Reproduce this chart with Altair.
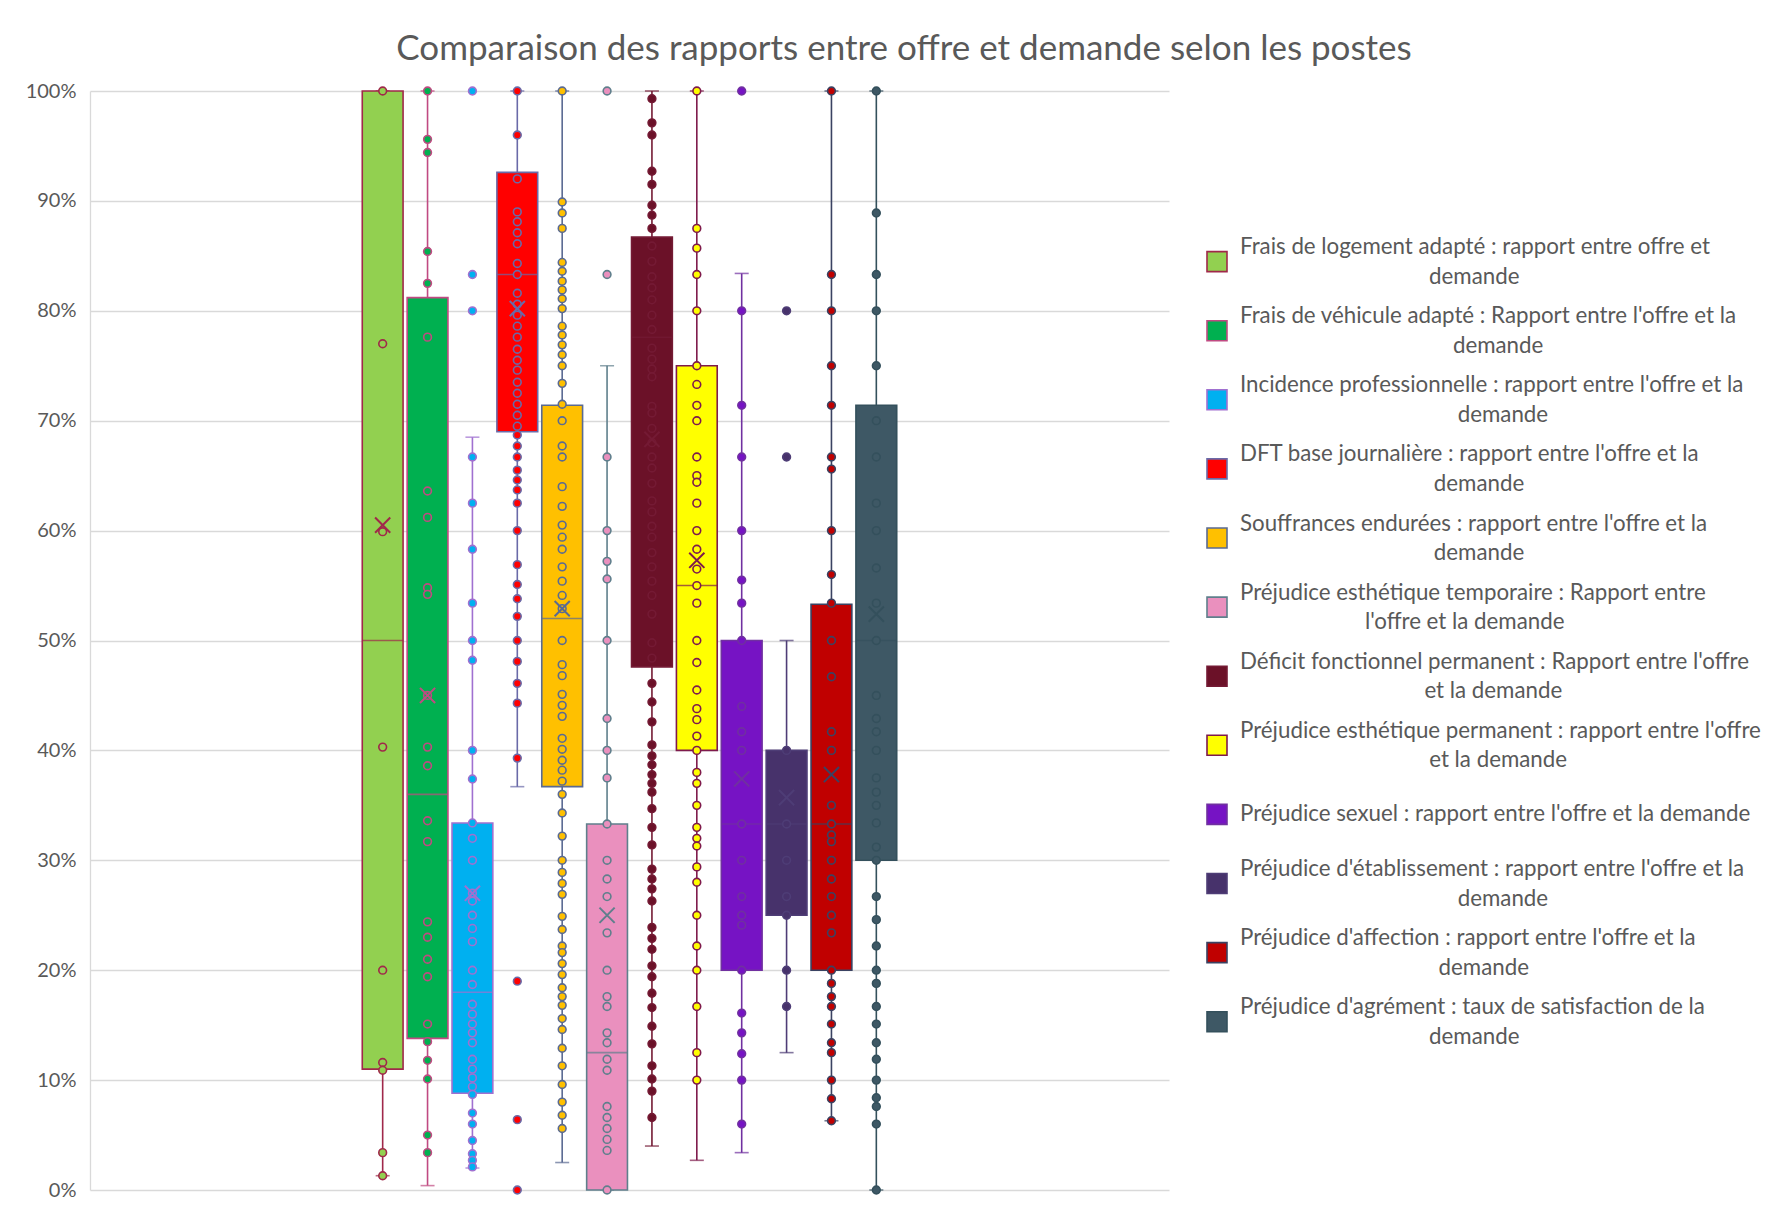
import altair as alt
import pandas as pd

TITLE = "Comparaison des rapports entre offre et demande selon les postes"

LINE1 = [
    "Frais de logement adapté : rapport entre offre et",
    "Frais de véhicule adapté : Rapport entre l'offre et la",
    "Incidence professionnelle : rapport entre l'offre et la",
    "DFT base journalière : rapport entre l'offre et la",
    "Souffrances endurées : rapport entre l'offre et la",
    "Préjudice esthétique temporaire : Rapport entre",
    "Déficit fonctionnel permanent : Rapport entre l'offre",
    "Préjudice esthétique permanent : rapport entre l'offre",
    "Préjudice sexuel : rapport entre l'offre et la demande",
    "Préjudice d'établissement : rapport entre l'offre et la",
    "Préjudice d'affection : rapport entre l'offre et la",
    "Préjudice d'agrément : taux de satisfaction de la",
]
LINE2 = [
    "demande", "demande", "demande", "demande", "demande",
    "l'offre et la demande", "et la demande", "et la demande", "",
    "demande", "demande", "demande",
]
SERIES = [(a + " " + b).strip() for a, b in zip(LINE1, LINE2)]

FILLS = ["#92D050", "#00B050", "#00B0F0", "#FF0000", "#FFC000", "#EA90BE",
         "#6B1128", "#FFFF00", "#7613C4", "#47326B", "#C00000", "#3E5865"]
STROKES = ["#A0284A", "#C04A82", "#A070D0", "#6A6AA8", "#5A6A92", "#5F7F8C",
           "#741A34", "#7E1A4C", "#7030A0", "#4E3D76", "#3A4262", "#34505C"]

# values in percent
P1 = [100, 77.0, 59.9, 40.3, 20.0, 11.6, 10.9, 3.4, 1.3]
P2 = [100, 95.6, 94.4, 85.4, 82.5, 77.6, 63.6, 61.2, 54.8, 54.2, 45.0, 40.3, 38.6,
      33.6, 31.7, 24.4, 23.0, 21.0, 19.4, 15.1, 13.5, 11.8, 10.1, 5.0, 3.4]
P3 = [100, 83.3, 80.0, 66.7, 62.5, 58.3, 53.4, 50.0, 48.2, 40.0, 37.4, 33.4, 32.0,
      30.0, 27.0, 26.3, 25.0, 23.8, 22.6, 20.0, 18.7, 16.9, 16.0, 15.1, 14.3, 13.4,
      11.9, 11.0, 10.2, 9.4, 8.7, 7.0, 6.0, 4.5, 3.3, 2.7, 2.1]
P4 = [100, 96.0, 92.0, 89.0, 88.1, 87.1, 86.1, 84.3, 83.3, 81.6, 80.6, 79.6, 78.6,
      77.6, 76.5, 75.5, 74.6, 73.5, 72.5, 71.5, 70.5, 69.5, 68.7, 67.7, 66.7, 65.5,
      64.6, 63.7, 62.5, 60.0, 56.9, 55.1, 53.8, 52.2, 50.0, 48.1, 46.1, 44.3, 39.3,
      19.0, 6.4, 0.0]
P5 = [100, 89.9, 88.9, 87.5, 84.4, 83.6, 82.7, 81.9, 81.1, 80.2, 78.6, 77.8, 76.9,
      76.0, 75.0, 73.4, 71.5, 70.0, 67.7, 66.7, 64.0, 62.2, 60.5, 59.4, 58.3, 56.7,
      55.4, 54.1, 52.9, 50.0, 47.8, 46.8, 45.1, 44.1, 43.1, 41.1, 40.1, 39.1, 38.2,
      37.2, 36.0, 34.3, 32.2, 30.0, 28.9, 27.9, 26.9, 24.9, 23.7, 22.2, 21.6, 20.6,
      19.6, 18.4, 17.6, 16.8, 15.6, 14.6, 12.9, 11.3, 9.6, 8.0, 6.8, 5.6]
P6 = [100, 83.3, 66.7, 60.0, 57.2, 55.6, 50.0, 42.9, 40.0, 37.5, 33.3, 30.0, 28.3,
      26.7, 23.4, 20.0, 17.6, 16.7, 14.3, 13.4, 11.9, 10.9, 7.6, 6.6, 5.6, 4.6, 3.6, 0.0]
P7 = [99.3, 97.1, 96.0, 92.7, 91.5, 89.6, 88.7, 87.5, 85.9, 84.5, 83.1, 82.1, 81.0,
      79.6, 78.3, 76.6, 75.6, 74.7, 74.0, 71.3, 70.7, 69.3, 68.0, 66.7, 65.7, 64.3,
      62.7, 61.7, 60.4, 59.4, 58.0, 56.7, 55.4, 54.1, 52.4, 49.8, 48.4, 46.1, 44.4,
      42.6, 40.5, 39.5, 38.7, 37.8, 37.0, 36.2, 34.7, 33.0, 31.4, 29.2, 28.3, 27.4,
      26.3, 23.9, 22.9, 21.9, 20.4, 19.4, 17.9, 16.6, 14.9, 13.3, 11.3, 10.1, 9.0, 6.6]
P8 = [100, 87.5, 85.7, 83.3, 80.0, 75.0, 73.3, 71.4, 70.0, 66.7, 65.0, 64.4, 62.5,
      60.0, 58.3, 56.5, 55.0, 53.4, 50.0, 48.0, 45.5, 43.8, 42.8, 41.3, 40.0, 38.0,
      37.0, 35.0, 33.0, 32.0, 31.3, 29.4, 28.0, 25.0, 22.2, 20.0, 16.7, 12.5, 10.0]
P9 = [100, 80.0, 71.4, 66.7, 60.0, 55.5, 53.4, 50.0, 44.0, 41.7, 40.0, 33.3, 30.0,
      26.7, 25.0, 24.1, 20.0, 16.1, 14.3, 12.4, 10.0, 6.0]
P10 = [80.0, 66.7, 40.0, 33.3, 30.0, 26.7, 25.0, 20.0, 16.7]
P11 = [100, 83.3, 80.0, 75.0, 71.4, 66.7, 65.6, 60.0, 56.0, 53.4, 50.0, 46.7, 41.7,
       40.0, 35.0, 33.3, 32.3, 31.7, 30.0, 28.3, 26.7, 25.0, 23.4, 20.0, 18.8, 17.6,
       16.7, 15.1, 13.4, 12.5, 10.0, 8.3, 6.3]
P12 = [100, 88.9, 83.3, 80.0, 75.0, 70.0, 66.7, 62.5, 60.0, 56.6, 53.4, 50.0, 45.0,
       42.9, 41.7, 40.0, 37.5, 36.2, 35.0, 33.4, 31.2, 30.0, 26.7, 24.6, 22.2, 20.0,
       18.8, 16.7, 15.1, 13.4, 11.9, 10.0, 8.4, 7.6, 6.0, 0.0]
POINTS = [P1, P2, P3, P4, P5, P6, P7, P8, P9, P10, P11, P12]

Q1 = [11.0, 13.8, 8.8, 69.0, 36.7, 0.0, 47.6, 40.0, 20.0, 25.0, 20.0, 30.0]
MEDIAN = [50.0, 36.0, 18.0, 83.3, 52.0, 12.5, 77.6, 55.0, 33.3, 33.3, 33.3, 50.0]
Q3 = [100.0, 81.2, 33.4, 92.6, 71.4, 33.3, 86.7, 75.0, 50.0, 40.0, 53.3, 71.4]
MEAN = [60.5, 45.0, 27.0, 80.2, 52.9, 25.0, 68.3, 57.3, 37.4, 35.7, 37.8, 52.4]
WLO = [1.3, 0.4, 2.0, 36.7, 2.5, 0.0, 4.0, 2.7, 3.4, 12.5, 6.3, 0.0]
WHI = [100.0, 100.0, 68.5, 100.0, 100.0, 75.0, 100.0, 100.0, 83.4, 50.0, 100.0, 100.0]

GREY = "#595959"
GRID = "#D9D9D9"

pts = pd.DataFrame([
    {"series": s, "pos": i, "value": v / 100}
    for i, (s, vals) in enumerate(zip(SERIES, POINTS)) for v in vals
])
box = pd.DataFrame({
    "series": SERIES,
    "pos": list(range(len(SERIES))),
    "q1": [v / 100 for v in Q1],
    "med": [v / 100 for v in MEDIAN],
    "q3": [v / 100 for v in Q3],
    "mean": [v / 100 for v in MEAN],
    "wlo": [v / 100 for v in WLO],
    "whi": [v / 100 for v in WHI],
})

W, H = 1079, 1099
N = len(SERIES)
HALF = 11.91  # half of the category axis span, in series steps

x = alt.X("pos:Q", scale=alt.Scale(domain=[(N - 1) / 2 - HALF, (N - 1) / 2 + HALF],
                                   nice=False, zero=False), axis=None)
fill = alt.Fill("series:N", scale=alt.Scale(domain=SERIES, range=FILLS), legend=None)
stroke = alt.Stroke("series:N", scale=alt.Scale(domain=SERIES, range=STROKES), legend=None)
scol = alt.Color("series:N", scale=alt.Scale(domain=SERIES, range=STROKES), legend=None)
yscale = alt.Scale(domain=[0, 1], nice=False, zero=False)

yaxis = alt.Axis(format="%", values=[i / 10 for i in range(11)], title=None,
                 grid=True, gridColor=GRID, gridWidth=1.3, ticks=False,
                 domain=True, domainColor=GRID, domainWidth=1.3,
                 labelFont="Lato", labelFontSize=20, labelColor=GREY, labelPadding=14)

base_box = alt.Chart(box)

whisker = base_box.mark_rule(strokeWidth=1.6).encode(
    x=x, y=alt.Y("wlo:Q", scale=yscale, axis=yaxis), y2="whi:Q", stroke=stroke)
cap_lo = base_box.mark_tick(size=14, thickness=1.6, orient="horizontal").encode(
    x=x, y=alt.Y("wlo:Q", scale=yscale), color=scol)
cap_hi = base_box.mark_tick(size=14, thickness=1.6, orient="horizontal").encode(
    x=x, y=alt.Y("whi:Q", scale=yscale), color=scol)
bars = base_box.mark_bar(width=40.8, strokeWidth=1.6, opacity=1).encode(
    x=x, y=alt.Y("q1:Q", scale=yscale), y2="q3:Q", fill=fill, stroke=stroke)
median = base_box.mark_tick(size=40.8, thickness=1.6, orient="horizontal").encode(
    x=x, y=alt.Y("med:Q", scale=yscale), color=scol)
dots = alt.Chart(pts).mark_circle(size=60, strokeWidth=1.6, opacity=1).encode(
    x=x, y=alt.Y("value:Q", scale=yscale), fill=fill, stroke=stroke)
mean = base_box.mark_point(shape="M-1,-1L1,1M-1,1L1,-1", size=230, filled=False,
                           strokeWidth=2, opacity=1).encode(
    x=x, y=alt.Y("mean:Q", scale=yscale), stroke=stroke)

main = alt.layer(whisker, cap_lo, cap_hi, bars, median, dots, mean).properties(
    width=W, height=H)

leg = pd.DataFrame({"idx": list(range(N)), "series": SERIES,
                    "line1": LINE1, "line2": LINE2})
ly = alt.Y("idx:Q", scale=alt.Scale(domain=[0, 11], range=[170.6, 930.7]), axis=None)
lbase = alt.Chart(leg)
TX = 51
sym = lbase.mark_square(size=400, strokeWidth=1.6, opacity=1).encode(
    x=alt.value(28), y=ly, fill=fill, stroke=stroke)
txt_style = dict(font="Lato", fontSize=22.3, color=GREY, baseline="middle")
t1 = lbase.transform_filter("datum.line2 != ''").mark_text(
    align="left", dy=-14.5, **txt_style).encode(x=alt.value(TX), y=ly, text="line1:N")
t1s = lbase.transform_filter("datum.line2 == ''").mark_text(
    align="left", dy=0, **txt_style).encode(x=alt.value(TX), y=ly, text="line1:N")
t2 = lbase.transform_filter("datum.line2 != ''").transform_calculate(
    cx=f"{TX} + length(datum.line1) * 4.78").mark_text(
    align="center", dy=15, **txt_style).encode(
    x=alt.X("cx:Q", scale=None), y=ly, text="line2:N")

legend = alt.layer(sym, t1, t1s, t2).properties(width=520, height=H)

chart = alt.hconcat(main, legend, spacing=20).resolve_scale(
    x="independent", y="independent").properties(
    title=alt.TitleParams(TITLE, font="Lato", fontSize=35, color=GREY,
                          fontWeight="normal", anchor="middle", offset=14, dx=11),
    padding={"left": 17, "top": 24, "right": 0, "bottom": 0}
).configure_view(stroke=None)

chart.save("out.html", embed_options={"renderer": "svg", "actions": False})
